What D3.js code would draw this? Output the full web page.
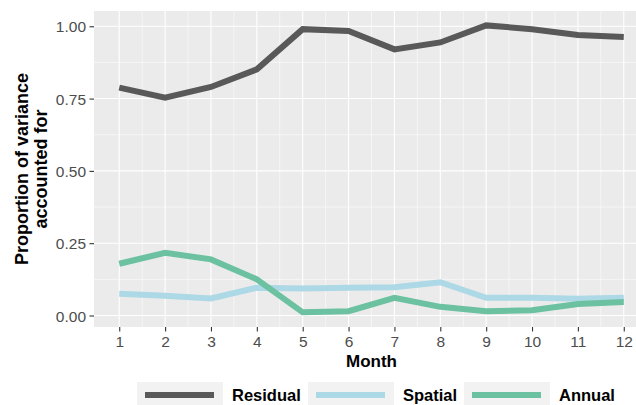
<!DOCTYPE html>
<html>
<head>
<meta charset="utf-8">
<script src="https://cdn.jsdelivr.net/npm/d3@7"></script>
<style>
  html, body { margin: 0; padding: 0; background: #fff; overflow: hidden; }
  svg { display: block; font-family: "Liberation Sans", Arial, sans-serif; }
</style>
</head>
<body>
<div id="chart"></div>
<script>
var months   = [1, 2, 3, 4, 5, 6, 7, 8, 9, 10, 11, 12];
var residual = [0.788, 0.753, 0.790, 0.851, 0.990, 0.984, 0.920, 0.944, 1.003, 0.990, 0.970, 0.963];
var spatial  = [0.075, 0.068, 0.059, 0.096, 0.093, 0.096, 0.098, 0.115, 0.061, 0.061, 0.058, 0.061];
var annual   = [0.179, 0.217, 0.194, 0.125, 0.011, 0.015, 0.061, 0.030, 0.015, 0.018, 0.040, 0.047];
var seriesNames = ['Residual', 'Spatial', 'Annual'];
var yTicks   = [0, 0.25, 0.5, 0.75, 1];

var colors = { Residual: '#595959', Spatial: '#add8e6', Annual: '#6cc1a1' };

var W = 636, H = 405;
var panel = { l: 94, r: 649, t: 11, b: 327 };

var svg = d3.select('#chart').append('svg')
    .attr('width', W)
    .attr('height', H);

// ggplot-style expanded scales (panel runs past the right edge, as in the picture)
var x = d3.scaleLinear().domain([1 - 0.55, 12 + 0.55]).range([panel.l, panel.r]);
var y = d3.scaleLinear().domain([0.01 - 0.04975, 1.003 + 0.04975]).range([panel.b, panel.t]);

var plot = svg.append('g');

plot.append('rect')
    .attr('x', panel.l).attr('y', panel.t)
    .attr('width', panel.r - panel.l).attr('height', panel.b - panel.t)
    .attr('fill', '#ebebeb');

// minor grid
var xMinor = d3.range(1.5, 12, 1);
var yMinor = [0.125, 0.375, 0.625, 0.875];
plot.selectAll('.vminor').data(xMinor).enter().append('line')
    .attr('x1', d => x(d)).attr('x2', d => x(d))
    .attr('y1', panel.t).attr('y2', panel.b)
    .attr('stroke', '#fff').attr('stroke-width', 0.55);
plot.selectAll('.hminor').data(yMinor).enter().append('line')
    .attr('x1', panel.l).attr('x2', panel.r)
    .attr('y1', d => y(d)).attr('y2', d => y(d))
    .attr('stroke', '#fff').attr('stroke-width', 0.55);

// major grid
plot.selectAll('.vmajor').data(months).enter().append('line')
    .attr('x1', d => x(d)).attr('x2', d => x(d))
    .attr('y1', panel.t).attr('y2', panel.b)
    .attr('stroke', '#fff').attr('stroke-width', 1.1);
plot.selectAll('.hmajor').data(yTicks).enter().append('line')
    .attr('x1', panel.l).attr('x2', panel.r)
    .attr('y1', d => y(d)).attr('y2', d => y(d))
    .attr('stroke', '#fff').attr('stroke-width', 1.1);

// lines
var data = {
    Residual: residual,
    Spatial:  spatial,
    Annual:   annual
};
var line = d3.line()
    .x((d, i) => x(months[i]))
    .y(d => y(d));

seriesNames.forEach(name => {
    plot.append('path')
        .datum(data[name])
        .attr('d', line)
        .attr('fill', 'none')
        .attr('stroke', colors[name])
        .attr('stroke-width', 6);
});

// axes
var xAxis = svg.append('g')
    .attr('transform', 'translate(0,' + panel.b + ')')
    .call(d3.axisBottom(x).tickValues(months).tickSize(4.5).tickPadding(4).tickFormat(d3.format('d')));
var yAxis = svg.append('g')
    .attr('transform', 'translate(' + panel.l + ',0)')
    .call(d3.axisLeft(y).tickValues(yTicks).tickSize(4.5).tickPadding(3.5).tickFormat(d3.format('.2f')));

[xAxis, yAxis].forEach(ax => {
    ax.attr('font-family', null);
    ax.select('.domain').remove();
    ax.selectAll('.tick line').attr('stroke', '#333').attr('stroke-width', 1.1);
    ax.selectAll('.tick text')
        .attr('fill', '#4d4d4d')
        .style('font-size', '15.5px');
});
yAxis.selectAll('.tick text').attr('dy', '0.36em');

// axis titles
svg.append('text')
    .attr('x', (panel.l + panel.r) / 2)
    .attr('y', 367)
    .attr('text-anchor', 'middle')
    .style('font-size', '17px')
    .style('font-weight', 'bold')
    .text('Month');

var yTitle = svg.append('text')
    .attr('transform', 'translate(28,' + ((panel.t + panel.b) / 2) + ') rotate(-90)')
    .attr('text-anchor', 'middle')
    .style('font-size', '18px')
    .style('font-weight', 'bold');
yTitle.append('tspan').attr('x', 0).attr('dy', 0).text('Proportion of variance');
yTitle.append('tspan').attr('x', 0).attr('dy', 19).text('accounted for');

// legend
var legendX = [137, 308, 464];
var legend = svg.append('g');
seriesNames.forEach((name, i) => {
    var g = legend.append('g').attr('transform', 'translate(' + legendX[i] + ',382)');
    g.append('rect')
        .attr('width', 86).attr('height', 26)
        .attr('fill', '#f2f2f2');
    g.append('line')
        .attr('x1', 8).attr('x2', 77)
        .attr('y1', 13).attr('y2', 13)
        .attr('stroke', colors[name])
        .attr('stroke-width', 6);
    g.append('text')
        .attr('x', 95).attr('y', 19)
        .style('font-size', '16.5px')
        .style('font-weight', 'bold')
        .text(name);
});
</script>
</body>
</html>
